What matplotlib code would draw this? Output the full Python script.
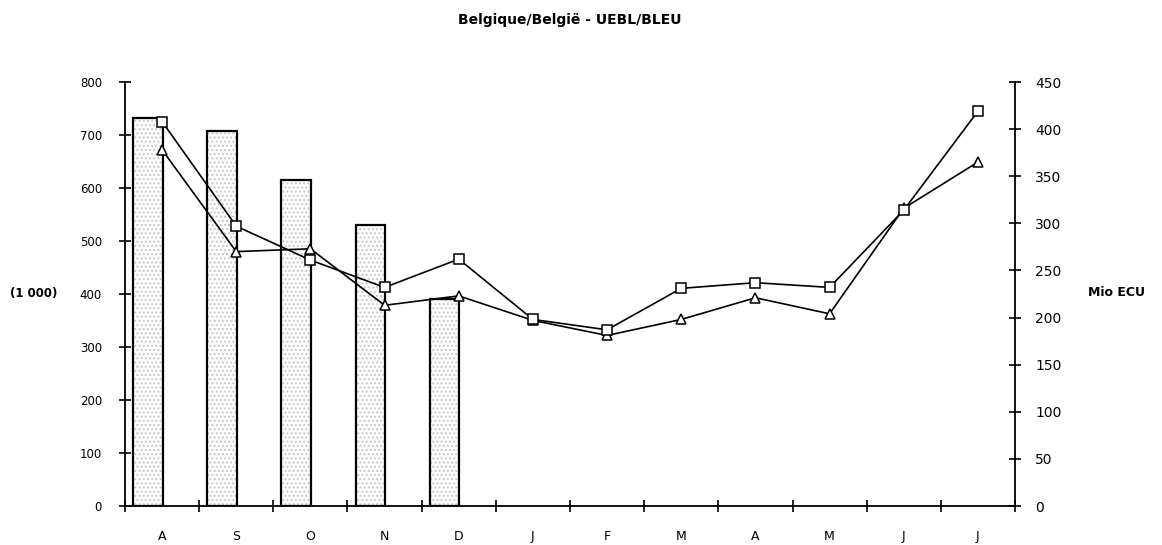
import matplotlib
matplotlib.use("Agg")
import matplotlib.pyplot as plt
import numpy as np

months = ["A", "S", "O", "N", "D", "J", "F", "M", "A", "M", "J", "J"]
bars_1000 = [732, 707, 616, 531, 390]           # (1 000), months A..D
squares_mio = [408, 297, 261, 232, 262, 198, 187, 231, 237, 232, 314, 419]
triangles_mio = [378, 270, 273, 213, 223, 197, 181, 198, 221, 204, 316, 365]
left_ticks = list(range(0, 801, 100))
right_ticks = list(range(0, 451, 50))

plt.rcParams['font.family'] = ['DejaVu Sans']
fig = plt.figure(figsize=(11.62, 5.45), dpi=100)
ax = fig.add_axes([125/1162, 1-506/545, (1015-125)/1162, (506-82)/545])
ax2 = ax.twinx()

x = np.arange(len(months))
xb = x[:len(bars_1000)]
# stipple fill
ax.bar(xb - 0.39, bars_1000, width=0.4, align='edge', facecolor='white',
       edgecolor='#c8c8c8', hatch='....', linewidth=0, zorder=2)
ax.bar(xb - 0.39, bars_1000, width=0.4, align='edge', facecolor='none',
       edgecolor='black', linewidth=1.6, zorder=3)

ax2.plot(x, squares_mio, color='black', lw=1.2, marker='s', ms=7,
         mfc='white', mec='black', mew=1.1, zorder=5)
ax2.plot(x, triangles_mio, color='black', lw=1.2, marker='^', ms=7,
         mfc='white', mec='black', mew=1.1, zorder=4)

ax.set_xlim(-0.5, len(months) - 0.5)
ax.set_ylim(0, 800)
ax2.set_ylim(0, 450)
ax.set_yticks(left_ticks)
ax2.set_yticks(right_ticks)
ax.set_xticks(x)
ax.set_xticklabels(months)
ax.set_xticks(np.arange(-0.5, len(months)), minor=True)
ax.tick_params(axis='x', which='major', length=0, pad=17, labelsize=9)
ax.tick_params(axis='x', which='minor', direction='inout', length=9, width=1.2)
ax.tick_params(axis='y', direction='inout', length=9, width=1.2, labelsize=8.5, pad=12)
ax2.tick_params(axis='y', direction='inout', length=9, width=1.2, labelsize=10, pad=10)
for a in (ax, ax2):
    a.spines['top'].set_visible(False)
    for s in ('left', 'right', 'bottom'):
        a.spines[s].set_linewidth(1.3)
ax.spines['right'].set_visible(False)
ax2.spines['left'].set_visible(False)
ax2.spines['bottom'].set_visible(False)

fig.text(570/1162, 1-20/545, "Belgique/België - UEBL/BLEU", ha='center', va='center',
         fontsize=10, fontweight='bold')
fig.text(10/1162, 1-294/545, "(1 000)", ha='left', va='center', fontsize=8.5, fontweight='bold')
fig.text(1088/1162, 1-292/545, "Mio ECU", ha='left', va='center', fontsize=9, fontweight='bold')

fig.savefig("out.png", dpi=100)
